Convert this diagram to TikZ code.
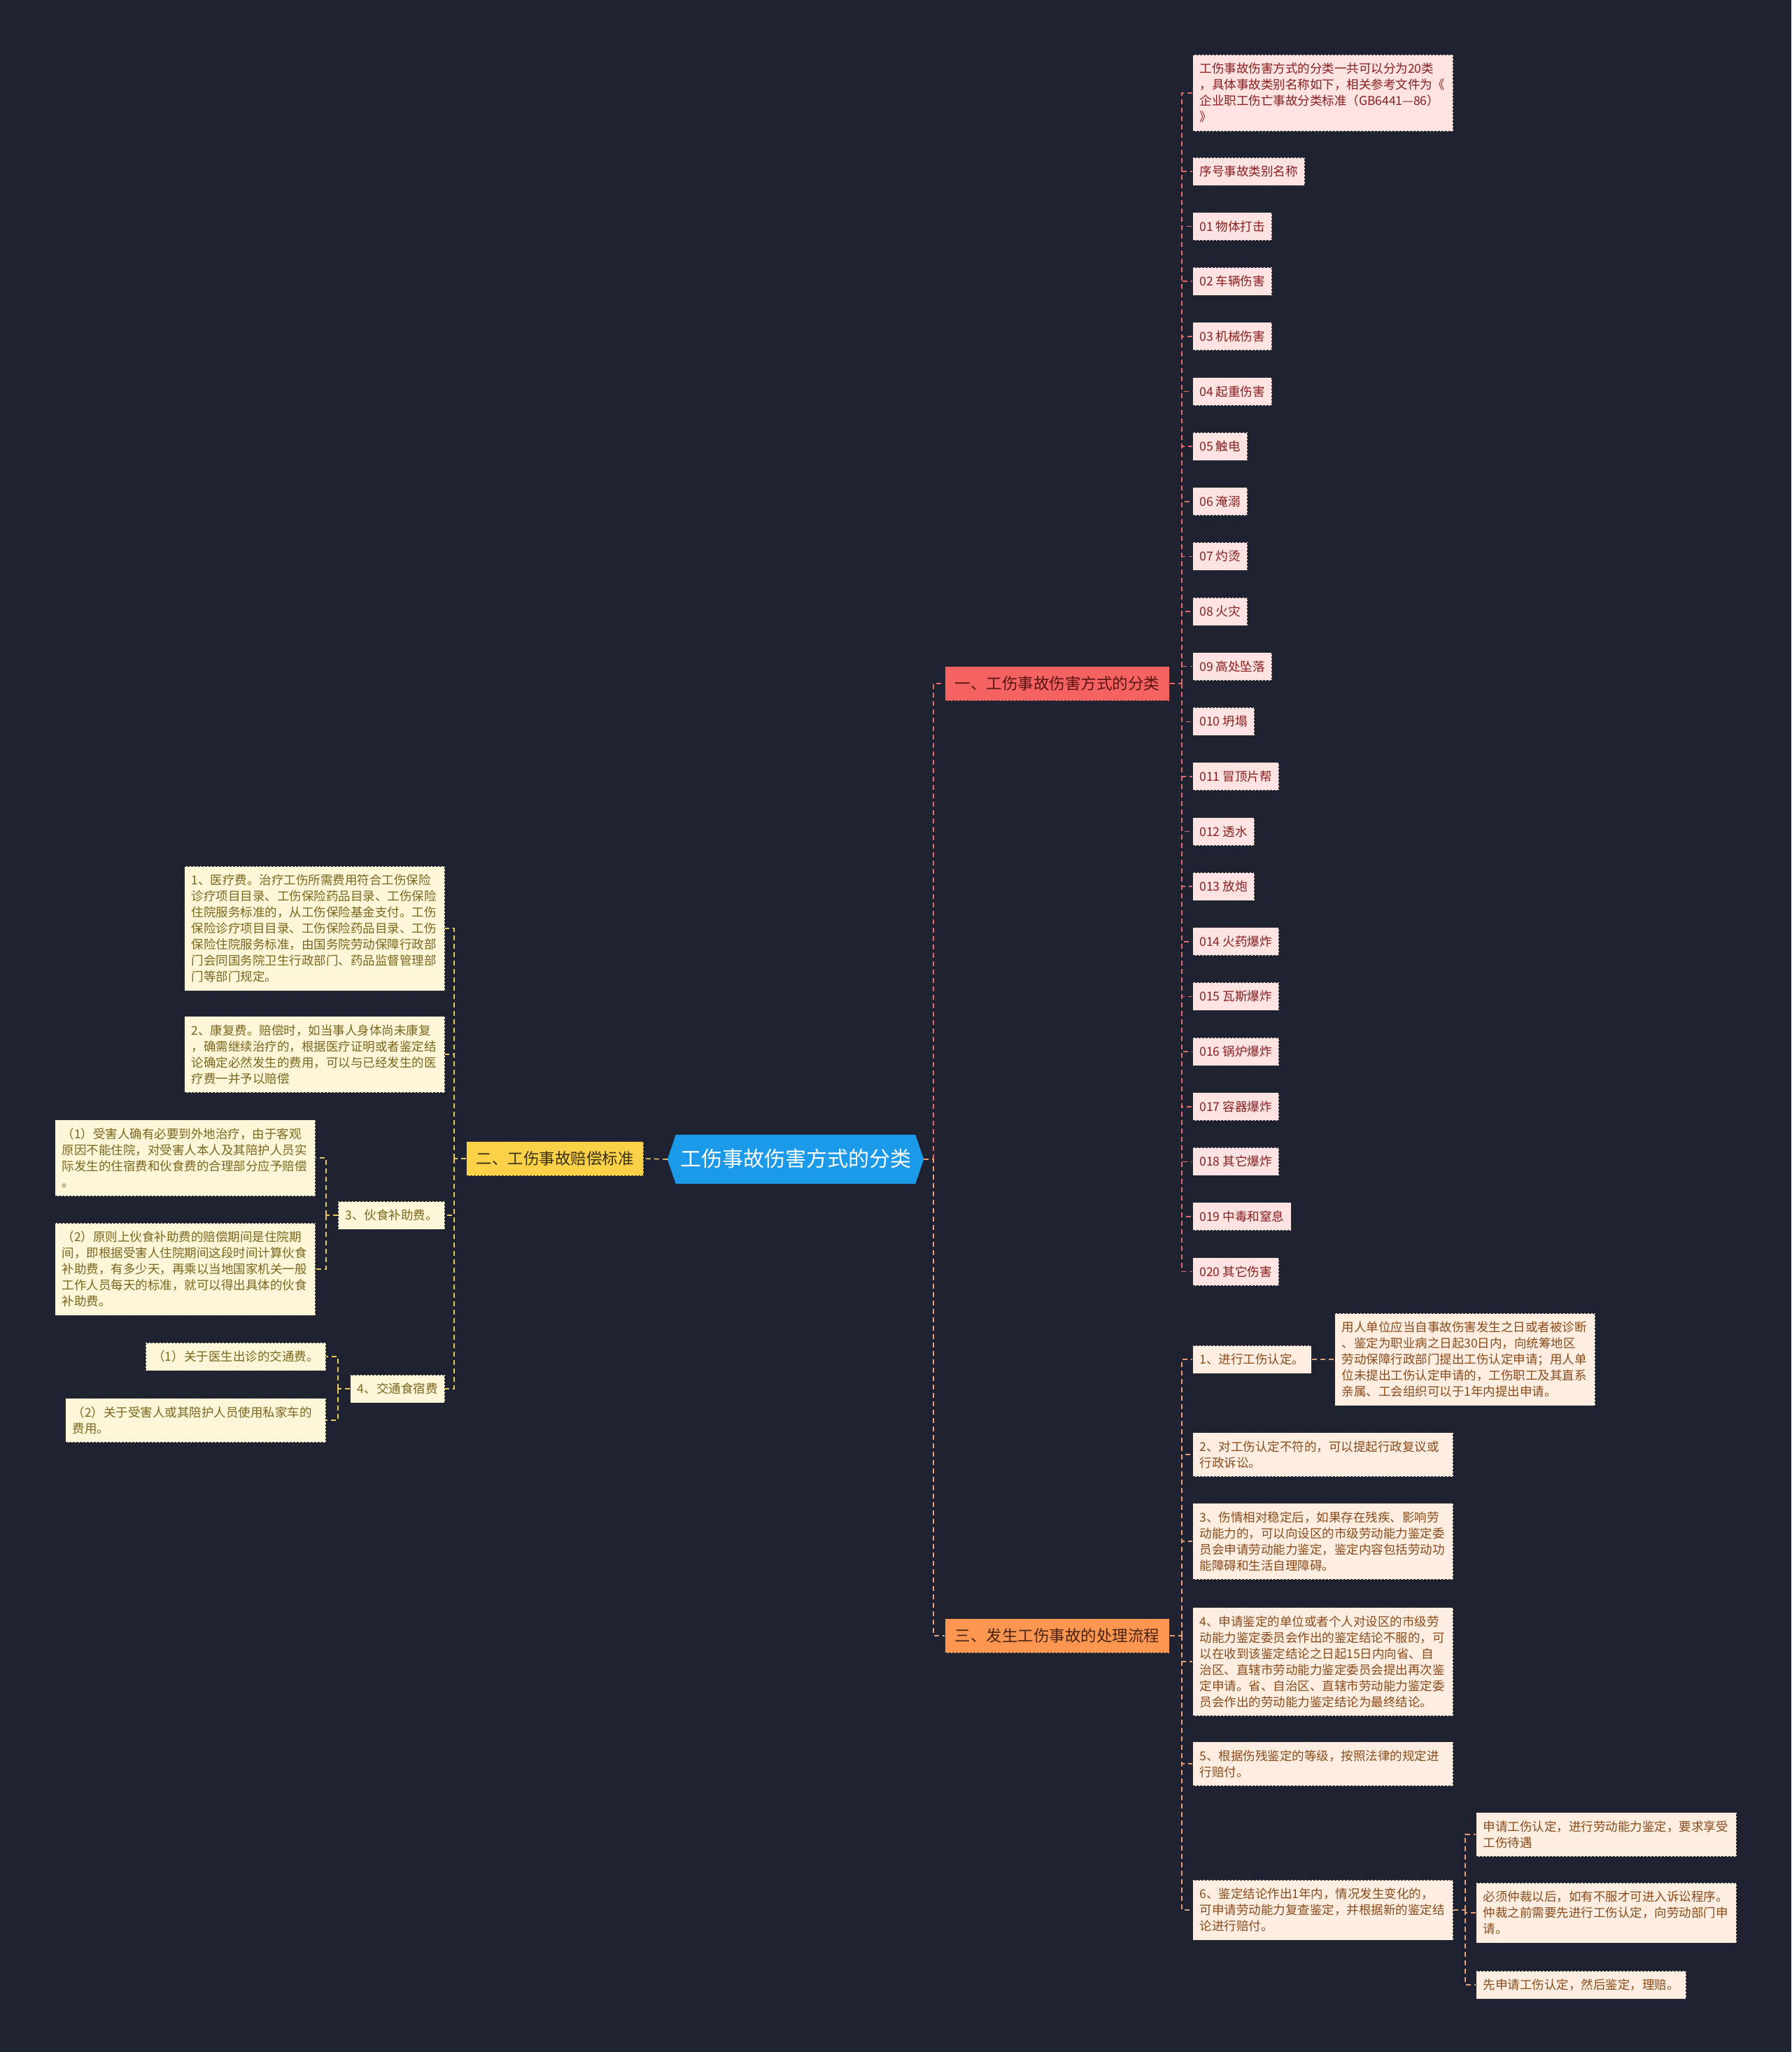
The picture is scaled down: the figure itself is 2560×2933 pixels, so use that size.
\documentclass[tikz,border=0pt]{standalone}
\usepackage{fontspec}
\setmainfont{Noto Sans CJK SC}
\usetikzlibrary{backgrounds}
\definecolor{bgc}{HTML}{1F2230}
\definecolor{rootc}{HTML}{1B9AEA}
\definecolor{bra}{HTML}{F46262}
\definecolor{brb}{HTML}{FBD247}
\definecolor{brc}{HTML}{FC9650}
\definecolor{tbra}{HTML}{5A1414}
\definecolor{tbrb}{HTML}{3A3012}
\definecolor{tbrc}{HTML}{4A2412}
\definecolor{lfa}{HTML}{FDE3E1}
\definecolor{lfb}{HTML}{FEF6D9}
\definecolor{lfc}{HTML}{FEEEE2}
\definecolor{txa}{HTML}{8B1E1E}
\definecolor{txb}{HTML}{7A661C}
\definecolor{txc}{HTML}{8A4A1A}
\definecolor{lna}{HTML}{E26A6A}
\definecolor{lnb}{HTML}{E9C957}
\definecolor{lnc}{HTML}{E5A079}
\definecolor{bdc}{HTML}{2E2E2E}
\newcommand\lstrut{\vrule width 0pt height 18pt depth 5pt\relax}
\tikzset{
  box/.style={draw=bdc, line width=1pt, dash pattern=on 3pt off 2pt,
    inner xsep=10pt, inner ysep=8.5pt,
    execute at begin node=\lstrut, execute at end node=\lstrut,
    font=\fontsize{17.5}{23}\selectfont},
  leafa/.style={box, fill=lfa, text=txa},
  leafb/.style={box, fill=lfb, text=txb},
  leafc/.style={box, fill=lfc, text=txc},
  wide/.style={text width=352pt, align=left},
  brbox/.style={draw=bdc, line width=1pt, dash pattern=on 3pt off 2pt,
    inner xsep=14pt, inner ysep=13.5pt, text height=19pt, text depth=3pt,
    font=\fontsize{22.5}{27}\selectfont},
  conn/.style={line width=1.6pt, dash pattern=on 7pt off 5pt},
  ca/.style={conn, draw=lna},
  cb/.style={conn, draw=lnb},
  cc/.style={conn, draw=lnc},
}
\begin{document}
\begin{tikzpicture}[x=1pt, y=-1pt]
\begin{scope}[on background layer]
  \fill[bgc] (0,0) rectangle (2560,2933);
\end{scope}
\begin{scope}[shift={(0,2)}]
% root
\node[minimum width=366pt, minimum height=70pt, inner sep=0pt, text=white,
  text height=26pt, text depth=5pt, font=\fontsize{30}{34}\selectfont] (root) at (1137,1655) {工伤事故伤害方式的分类};
\begin{scope}[on background layer]
  \fill[rootc] (root.west) -- ([xshift=12pt]root.north west) -- ([xshift=-12pt]root.north east)
    -- (root.east) -- ([xshift=-12pt]root.south east) -- ([xshift=12pt]root.south west) -- cycle;
\end{scope}
% branches
\node[brbox, fill=bra, text=tbra, anchor=west] (b1) at (1350,975) {一、工伤事故伤害方式的分类};
\node[brbox, fill=brb, text=tbrb, anchor=east] (b2) at (920,1654) {二、工伤事故赔偿标准};
\node[brbox, fill=brc, text=tbrc, anchor=west] (b3) at (1350,2336) {三、发生工伤事故的处理流程};
\coordinate (j0) at (1334,1655);
\draw[ca] (j0) |- (b1.west);
\draw[cc] (root.east) -- (j0) |- (b3.west);
\draw[cb] (root.west) -- (b2.east);

% branch 1 leaves
\coordinate (jb1) at (1689,975);
\draw[ca] (b1.east) -- (jb1);
\node[leafa, wide, anchor=west] (l0) at (1704,131) {工伤事故伤害方式的分类一共可以分为20类\\，具体事故类别名称如下，相关参考文件为《\\企业职工伤亡事故分类标准（GB6441—86）\\》};
\draw[ca] (jb1) |- (l0.west);
\foreach \t [count=\i from 0] in {序号事故类别名称, 01 物体打击, 02 车辆伤害, 03 机械伤害, 04 起重伤害, 05 触电, 06 淹溺, 07 灼烫, 08 火灾, 09 高处坠落, 010 坍塌, 011 冒顶片帮, 012 透水, 013 放炮, 014 火药爆炸, 015 瓦斯爆炸, 016 锅炉爆炸, 017 容器爆炸, 018 其它爆炸, 019 中毒和窒息, 020 其它伤害}{
  \node[leafa, anchor=west] (a\i) at (1704,243+78.63*\i) {\t};
  \draw[ca] (jb1) |- (a\i.west);
}

% branch 2 leaves
\coordinate (jb2) at (649,1654);
\draw[cb] (b2.west) -- (jb2);
\node[leafb, wide, anchor=east] (m1) at (636,1325) {1、医疗费。治疗工伤所需费用符合工伤保险\\诊疗项目目录、工伤保险药品目录、工伤保险\\住院服务标准的，从工伤保险基金支付。工伤\\保险诊疗项目目录、工伤保险药品目录、工伤\\保险住院服务标准，由国务院劳动保障行政部\\门会同国务院卫生行政部门、药品监督管理部\\门等部门规定。};
\node[leafb, wide, anchor=east] (m2) at (636,1505) {2、康复费。赔偿时，如当事人身体尚未康复\\，确需继续治疗的，根据医疗证明或者鉴定结\\论确定必然发生的费用，可以与已经发生的医\\疗费一并予以赔偿};
\node[leafb, anchor=east] (m3) at (636,1735) {3、伙食补助费。};
\node[leafb, anchor=east] (m4) at (636,1983) {4、交通食宿费};
\foreach \n in {m1,m2,m3,m4} \draw[cb] (jb2) |- (\n.east);

\coordinate (jm3) at (466,1735);
\draw[cb] (m3.west) -- (jm3);
\node[leafb, wide, anchor=east] (m3a) at (451,1653) {（1）受害人确有必要到外地治疗，由于客观\\原因不能住院，对受害人本人及其陪护人员实\\际发生的住宿费和伙食费的合理部分应予赔偿\\。};
\node[leafb, wide, anchor=east] (m3b) at (451,1812) {（2）原则上伙食补助费的赔偿期间是住院期\\间，即根据受害人住院期间这段时间计算伙食\\补助费，有多少天，再乘以当地国家机关一般\\工作人员每天的标准，就可以得出具体的伙食\\补助费。};
\draw[cb] (jm3) |- (m3a.east);
\draw[cb] (jm3) |- (m3b.east);

\coordinate (jm4) at (483,1983);
\draw[cb] (m4.west) -- (jm4);
\node[leafb, anchor=east] (m4a) at (466,1937) {（1）关于医生出诊的交通费。};
\node[leafb, wide, anchor=east] (m4b) at (466,2028) {（2）关于受害人或其陪护人员使用私家车的\\费用。};
\draw[cb] (jm4) |- (m4a.east);
\draw[cb] (jm4) |- (m4b.east);

% branch 3 leaves
\coordinate (jb3) at (1689,2336);
\draw[cc] (b3.east) -- (jb3);
\node[leafc, anchor=west] (s1) at (1704,1941) {1、进行工伤认定。};
\node[leafc, wide, anchor=west] (d1) at (1907,1941) {用人单位应当自事故伤害发生之日或者被诊断\\、鉴定为职业病之日起30日内，向统筹地区\\劳动保障行政部门提出工伤认定申请；用人单\\位未提出工伤认定申请的，工伤职工及其直系\\亲属、工会组织可以于1年内提出申请。};
\draw[cc] (s1.east) -- (d1.west);
\node[leafc, wide, anchor=west] (s2) at (1704,2077) {2、对工伤认定不符的，可以提起行政复议或\\行政诉讼。};
\node[leafc, wide, anchor=west] (s3) at (1704,2201) {3、伤情相对稳定后，如果存在残疾、影响劳\\动能力的，可以向设区的市级劳动能力鉴定委\\员会申请劳动能力鉴定，鉴定内容包括劳动功\\能障碍和生活自理障碍。};
\node[leafc, wide, anchor=west] (s4) at (1704,2373) {4、申请鉴定的单位或者个人对设区的市级劳\\动能力鉴定委员会作出的鉴定结论不服的，可\\以在收到该鉴定结论之日起15日内向省、自\\治区、直辖市劳动能力鉴定委员会提出再次鉴\\定申请。省、自治区、直辖市劳动能力鉴定委\\员会作出的劳动能力鉴定结论为最终结论。};
\node[leafc, wide, anchor=west] (s5) at (1704,2519) {5、根据伤残鉴定的等级，按照法律的规定进\\行赔付。};
\node[leafc, wide, anchor=west] (s6) at (1704,2728) {6、鉴定结论作出1年内，情况发生变化的，\\可申请劳动能力复查鉴定，并根据新的鉴定结\\论进行赔付。};
\foreach \n in {s1,s2,s3,s4,s5,s6} \draw[cc] (jb3) |- (\n.west);

\coordinate (js6) at (2094,2728);
\draw[cc] (s6.east) -- (js6);
\node[leafc, wide, anchor=west] (c1) at (2109,2620) {申请工伤认定，进行劳动能力鉴定，要求享受\\工伤待遇};
\node[leafc, wide, anchor=west] (c2) at (2109,2732) {必须仲裁以后，如有不服才可进入诉讼程序。\\仲裁之前需要先进行工伤认定，向劳动部门申\\请。};
\node[leafc, anchor=west] (c3) at (2109,2835) {先申请工伤认定，然后鉴定，理赔。};
\foreach \n in {c1,c2,c3} \draw[cc] (js6) |- (\n.west);
\end{scope}
\end{tikzpicture}
\end{document}
